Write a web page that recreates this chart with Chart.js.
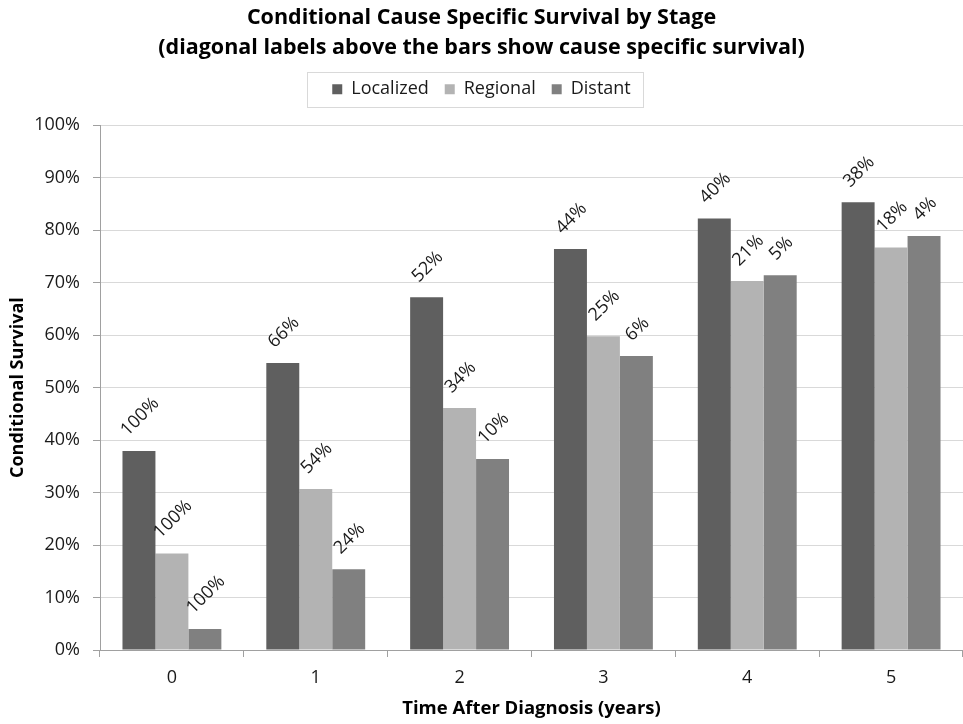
<!DOCTYPE html>
<html>
<head>
<meta charset="utf-8">
<script src="https://cdn.jsdelivr.net/npm/chart.js@4/dist/chart.umd.min.js"></script>
<style>
  html, body { margin: 0; padding: 0; background: #fff; }
  #wrap { width: 963px; height: 724px; }
</style>
</head>
<body>
<div id="wrap"><canvas id="c" width="963" height="724"></canvas></div>
<script>
const categories = ['0', '1', '2', '3', '4', '5'];
const seriesNames = ['Localized', 'Regional', 'Distant'];
const localized = [37.9, 54.7, 67.2, 76.4, 82.2, 85.3];
const regional  = [18.4, 30.7, 46.1, 59.8, 70.3, 76.7];
const distant   = [4.0, 15.4, 36.4, 56.0, 71.4, 78.9];
const localizedCSS = [100, 66, 52, 44, 40, 38];
const regionalCSS  = [100, 54, 34, 25, 21, 18];
const distantCSS   = [100, 24, 10, 6, 5, 4];
const yTicks = [0, 10, 20, 30, 40, 50, 60, 70, 80, 90, 100];

const FONT = "'Open Sans', 'Noto Sans', sans-serif";
const cssLabels = [localizedCSS, regionalCSS, distantCSS];

const diagLabels = {
  id: 'diagLabels',
  afterDatasetsDraw(chart) {
    const ctx = chart.ctx;
    ctx.save();
    ctx.font = '18px ' + FONT;
    ctx.fillStyle = '#1a1a1a';
    ctx.textAlign = 'center';
    ctx.textBaseline = 'middle';
    chart.data.datasets.forEach((ds, di) => {
      const meta = chart.getDatasetMeta(di);
      meta.data.forEach((bar, i) => {
        const txt = cssLabels[di][i] + '%';
        const w = ctx.measureText(txt).width;
        const cx = bar.x + 1;
        const cy = bar.y - 18 - w * 0.354;
        ctx.save();
        ctx.translate(cx, cy);
        ctx.rotate(-Math.PI / 4);
        ctx.fillText(txt, 0, 0);
        ctx.restore();
      });
    });
    ctx.restore();
  }
};

const legendBorder = {
  id: 'legendBorder',
  afterDraw(chart) {
    const lg = chart.legend;
    if (!lg || !lg.legendHitBoxes || !lg.legendHitBoxes.length) return;
    const hb = lg.legendHitBoxes;
    const left = hb[0].left - 25;
    const right = hb[hb.length - 1].left + hb[hb.length - 1].width + 13;
    const cy = hb[0].top + hb[0].height / 2;
    const ctx = chart.ctx;
    ctx.save();
    ctx.strokeStyle = '#d9d9d9';
    ctx.lineWidth = 1;
    ctx.strokeRect(Math.round(left) + 0.5, Math.round(cy - 17) + 0.5, Math.round(right - left), 35);
    ctx.restore();
  }
};

new Chart(document.getElementById('c'), {
  type: 'bar',
  data: {
    labels: categories,
    datasets: [
      { label: seriesNames[0], data: localized, backgroundColor: '#5f5f5f' },
      { label: seriesNames[1], data: regional, backgroundColor: '#b3b3b3' },
      { label: seriesNames[2], data: distant, backgroundColor: '#808080' }
    ]
  },
  options: {
    responsive: false,
    animation: false,
    devicePixelRatio: 1,
    layout: { padding: { left: 0, right: 0, top: 0, bottom: 0 } },
    datasets: { bar: { categoryPercentage: 0.6875, barPercentage: 1.0 } },
    plugins: {
      tooltip: { enabled: false },
      title: {
        display: true,
        text: ['Conditional Cause Specific Survival by Stage',
               '(diagonal labels above the bars show cause specific survival)'],
        font: { family: FONT, size: 21.5, weight: 'bold', lineHeight: 1.4 },
        color: '#000',
        padding: { top: 3, bottom: 1 }
      },
      legend: {
        display: true,
        position: 'top',
        labels: {
          font: { family: FONT, size: 18 },
          color: '#1a1a1a',
          boxWidth: 10,
          boxHeight: 10,
          padding: 16
        }
      }
    },
    scales: {
      xTop: {
        type: 'category',
        position: 'top',
        display: true,
        grid: { display: false },
        border: { display: false },
        ticks: { display: false },
        afterFit(s) { s.height = 17; }
      },
      x: {
        position: 'bottom',
        grid: { drawOnChartArea: false, drawTicks: true, tickLength: 7, color: '#a0a0a0' },
        border: { color: '#a0a0a0' },
        ticks: { font: { family: FONT, size: 18 }, color: '#1a1a1a', padding: 10 },
        title: {
          display: true,
          text: 'Time After Diagnosis (years)',
          font: { family: FONT, size: 18.5, weight: 'bold' },
          color: '#000',
          padding: { top: 0, bottom: 4 }
        },
        afterFit(s) { s.height = 74; }
      },
      y: {
        min: 0,
        max: 100,
        afterBuildTicks(s) { s.ticks = yTicks.map(v => ({ value: v })); },
        grid: { color: '#d9d9d9', tickColor: '#a0a0a0', tickLength: 7 },
        border: { color: '#a0a0a0' },
        ticks: {
          font: { family: FONT, size: 18 },
          color: '#1a1a1a',
          padding: 13,
          callback: v => v + '%'
        },
        title: {
          display: true,
          text: 'Conditional Survival',
          font: { family: FONT, size: 18, weight: 'bold' },
          color: '#000',
          padding: { top: 7, bottom: 0 }
        },
        afterFit(s) { s.width = 100; }
      }
    }
  },
  plugins: [diagLabels, legendBorder]
});
</script>
</body>
</html>
